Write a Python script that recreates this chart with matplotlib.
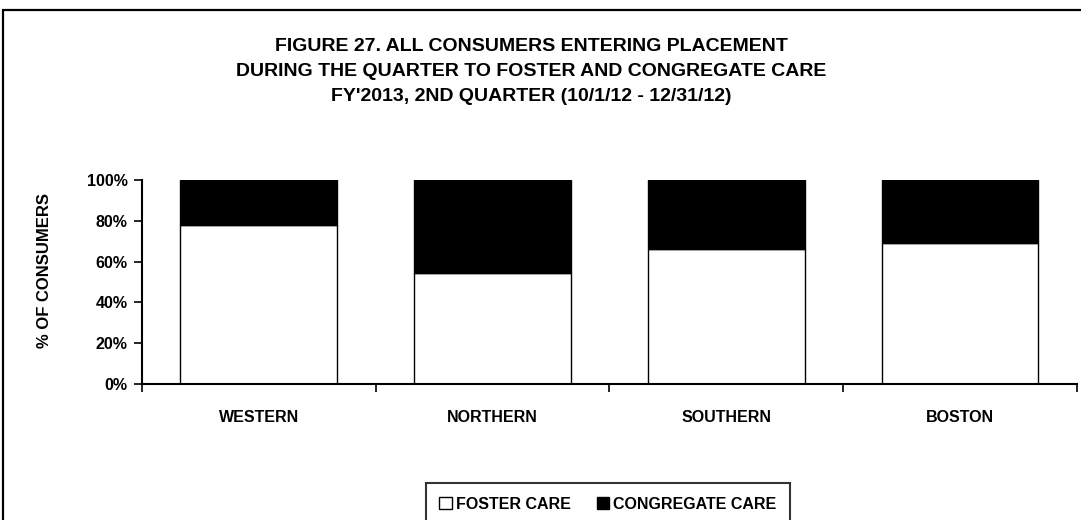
import matplotlib.pyplot as plt
from matplotlib.patches import Rectangle, Patch
from matplotlib.ticker import FixedLocator, PercentFormatter
import numpy as np

plt.rcParams['font.family'] = ['Liberation Sans', 'DejaVu Sans']
plt.rcParams['font.weight'] = 'bold'

# share of consumers entering placement, by region
regions = ['WESTERN', 'NORTHERN', 'SOUTHERN', 'BOSTON']
foster = [0.78, 0.545, 0.66, 0.69]
congregate = [1 - f for f in foster]

fig = plt.figure(figsize=(10.81, 5.2), dpi=100, facecolor='white')

# outer frame around the whole chart
fig.patches.append(Rectangle((3 / 1081, -0.2), 1.2, 1.2 - 10 / 520,
                             transform=fig.transFigure, fill=False,
                             edgecolor='black', linewidth=1.6))

ax = fig.add_axes([0.1311, 0.2615, 0.8652, 0.3923])
x = np.arange(len(regions))
ax.bar(x, foster, width=0.67, color='white', edgecolor='black', linewidth=1.0)
ax.bar(x, congregate, width=0.67, bottom=foster, color='black',
       edgecolor='black', linewidth=1.0)

ax.set_xlim(-0.5, len(regions) - 0.5)
ax.set_ylim(0, 1)
ax.spines['top'].set_visible(False)
ax.spines['right'].set_visible(False)
ax.spines['left'].set_linewidth(1.5)
ax.spines['bottom'].set_linewidth(1.5)

ax.set_xticks(x)
ax.set_xticklabels(regions, fontsize=11.5, fontweight='bold')
ax.tick_params(axis='x', which='major', length=0, pad=19)
ax.xaxis.set_minor_locator(FixedLocator(np.arange(-0.5, len(regions), 1.0)))
ax.tick_params(axis='x', which='minor', length=6, width=1.2, direction='out')

ax.set_yticks(np.arange(0, 1.01, 0.2))
ax.yaxis.set_major_formatter(PercentFormatter(1.0, decimals=0))
ax.tick_params(axis='y', length=6, width=1.2, direction='out', labelsize=11.5, pad=4)
for lab in ax.get_yticklabels():
    lab.set_fontweight('bold')

fig.text(45 / 1081, 1 - 270 / 520, '% OF CONSUMERS', rotation=90, ha='center',
         va='center', fontsize=12, fontweight='bold')

title = ("FIGURE 27. ALL CONSUMERS ENTERING PLACEMENT\n"
         "DURING THE QUARTER TO FOSTER AND CONGREGATE CARE\n"
         "FY'2013, 2ND QUARTER (10/1/12 - 12/31/12)")
fig.text(531 / 1081, 1 - 71.5 / 520, title, ha='center', va='center',
         fontsize=14, fontweight='bold', linespacing=1.65)

# legend box runs off the bottom edge of the figure
handles = [Patch(facecolor='white', edgecolor='black', linewidth=1.0, label='FOSTER CARE'),
           Patch(facecolor='black', edgecolor='black', linewidth=1.0, label='CONGREGATE CARE')]
leg = fig.legend(handles=handles, loc='upper center', ncol=2,
                 bbox_to_anchor=(608 / 1081, 1 - 483 / 520),
                 frameon=True, fancybox=False, edgecolor='black',
                 fontsize=11.5, handlelength=0.8, handleheight=0.8,
                 handletextpad=0.25, columnspacing=1.6, borderpad=0.85,
                 borderaxespad=0)
leg.get_frame().set_linewidth(1.5)
for t in leg.get_texts():
    t.set_fontweight('bold')

fig.savefig('out.png', dpi=100, facecolor='white')
